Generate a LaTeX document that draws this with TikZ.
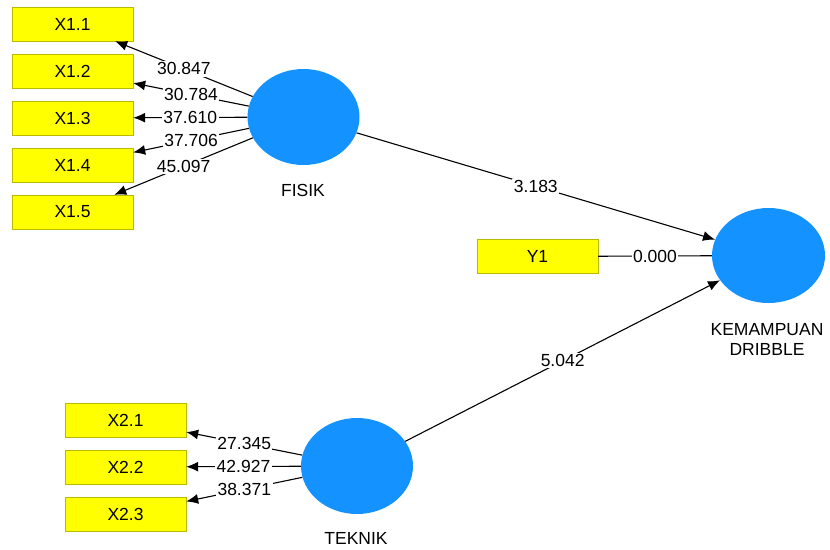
\documentclass[tikz,border=0pt]{standalone}
\usepackage{fontspec}
\setmainfont{Liberation Sans}
\usetikzlibrary{shapes.geometric,arrows.meta}

\begin{document}
\begin{tikzpicture}[x=1pt,y=-1pt,
        font=\fontsize{17.5}{20}\selectfont,
        indicator/.style={draw={rgb,255:red,185;green,185;blue,0},
            fill={rgb,255:red,255;green,255;blue,0},
            minimum width=121pt, minimum height=34pt, inner sep=0pt},
        latent/.style={ellipse, fill={rgb,255:red,20;green,146;blue,255},
            minimum width=112pt, minimum height=96pt, inner sep=0pt},
        link/.style={line width=1.1pt, -{Latex[length=12pt,width=10pt]}},
        coef/.style={fill=white, inner sep=1.5pt, pos=0.5}]
        \useasboundingbox (0,0) rectangle (830,549);

        % Latent variables
        \node[latent] (fisik) at (303.5,117) {};
        \node[latent] (teknik) at (357,466) {};
        \node[latent, minimum width=113pt, minimum height=95pt] (dribble) at (768.5,255.5) {};
        \node (fisiklabel) at (303,190) {FISIK};
        \node (tekniklabel) at (356,538) {TEKNIK};
        \node[align=center] (dribblelabel) at (767,339) {KEMAMPUAN\\DRIBBLE};

        % Indicators
        \foreach \i in {1,...,5}
            \node[indicator] (x1\i) at (72.5,{24+47*(\i-1)}) {X1.\i};
        \foreach \i in {1,2,3}
            \node[indicator] (x2\i) at (125.5,{420+47*(\i-1)}) {X2.\i};
        \node[indicator] (y1) at (537.5,256.5) {Y1};

        % Outer loadings
        \foreach \i/\v in {1/30.847,2/30.784,3/37.610,4/37.706,5/45.097}
            \draw[link] (fisik) -- node[coef] {\v} (x1\i);
        \foreach \i/\v in {1/27.345,2/42.927,3/38.371}
            \draw[link] (teknik) -- node[coef] {\v} (x2\i);
        \draw[line width=1.1pt] (dribble) -- node[coef] {0.000} (y1);

        % Inner paths
        \draw[link] (fisik) -- node[coef] {3.183} (dribble);
        \draw[link] (teknik) -- node[coef] {5.042} (dribble);
    \end{tikzpicture}
\end{document}
